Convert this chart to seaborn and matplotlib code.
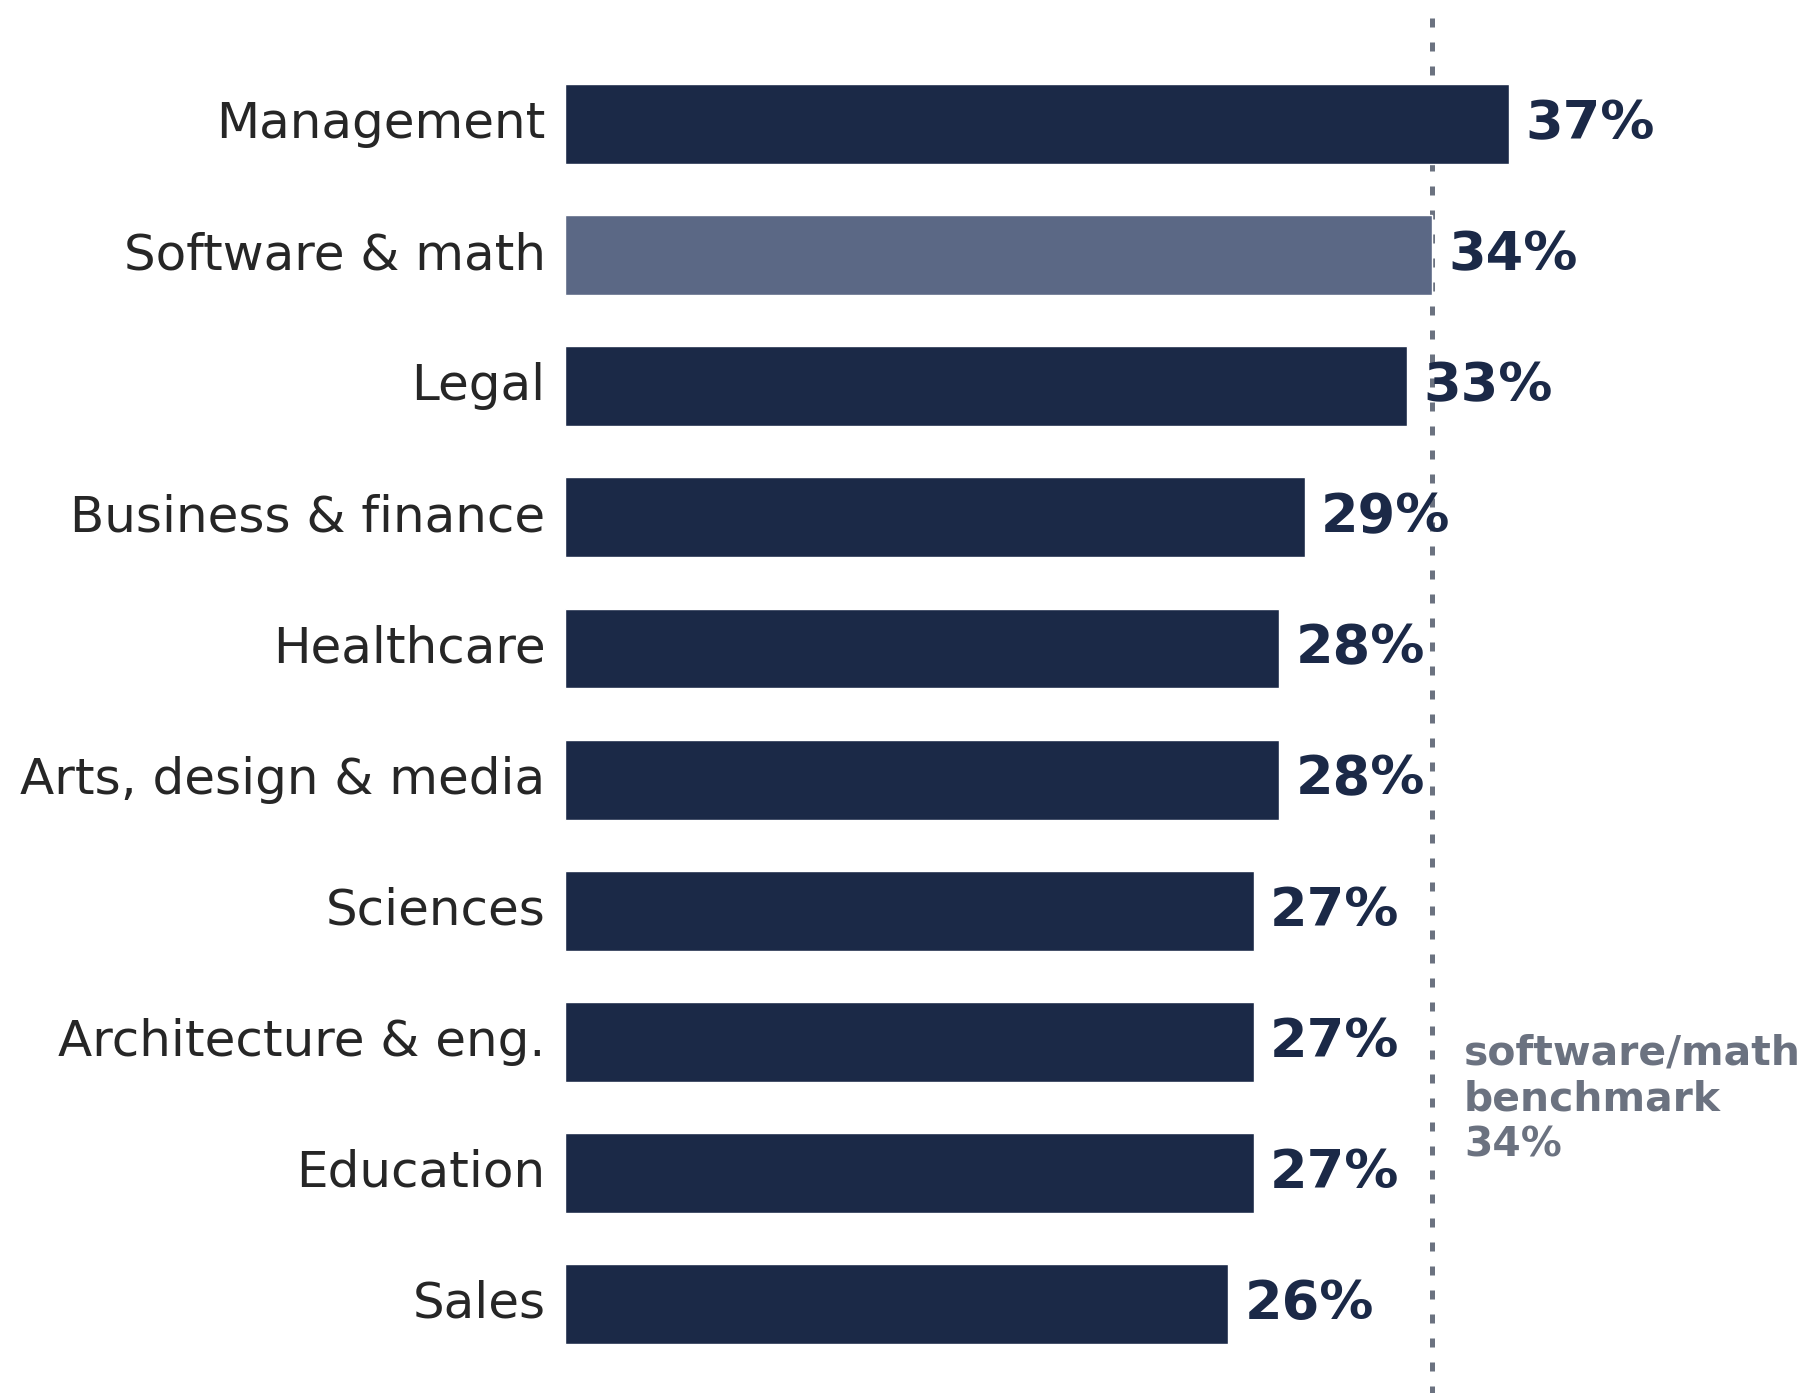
import matplotlib
matplotlib.use("Agg")
import matplotlib.pyplot as plt
import seaborn as sns
import pandas as pd

categories = ["Management", "Software & math", "Legal", "Business & finance",
              "Healthcare", "Arts, design & media", "Sciences",
              "Architecture & eng.", "Education", "Sales"]
values = [37, 34, 33, 29, 28, 28, 27, 27, 27, 26]
highlight = "Software & math"
benchmark = 34
benchmark_label = "software/math\nbenchmark\n34%"

NAVY = "#1b2947"
HIGHLIGHT = "#5b6885"
GRAY = "#6b7280"
TEXT = "#262626"

sns.set_theme(style="white")
plt.rcParams["font.family"] = ["DejaVu Sans"]

df = pd.DataFrame({"category": categories, "value": values})
df["group"] = ["hi" if c == highlight else "base" for c in categories]

W, H = 1813, 1393
fig = plt.figure(figsize=(W / 100, H / 100), dpi=100)
ax = fig.add_axes([565 / W, -40 / H, (W - 565) / W, (H + 40 - 18) / H])

sns.barplot(data=df, x="value", y="category", hue="group",
            palette={"base": NAVY, "hi": HIGHLIGHT}, order=categories,
            dodge=False, width=0.61, legend=False, ax=ax, saturation=1)

ax.set_xlim(0, 48.94)
ax.set_ylim(9.681 + 40 / 131.05, -0.811)
ax.axvline(benchmark, ymin=1, ymax=0, color=GRAY, lw=3.6,
           linestyle=(0, (1.8, 3.0)), zorder=0.5)

for i, v in enumerate(values):
    ax.annotate(f"{v}%", xy=(v, i), xytext=(12, 0), textcoords="offset points",
                ha="left", va="center", fontsize=39, fontweight="bold", color=NAVY)

ax.text(benchmark + 1.25, 7.44, benchmark_label, ha="left", va="center",
        fontsize=29.4, fontweight="bold", color=GRAY, linespacing=1.2)

ax.set_xlabel("")
ax.set_ylabel("")
ax.set_xticks([])
ax.tick_params(axis="y", length=0, pad=14, labelsize=36, labelcolor=TEXT)
for lbl in ax.get_yticklabels():
    lbl.set_verticalalignment("center")
for s in ax.spines.values():
    s.set_visible(False)

fig.savefig("out.png", dpi=100)
